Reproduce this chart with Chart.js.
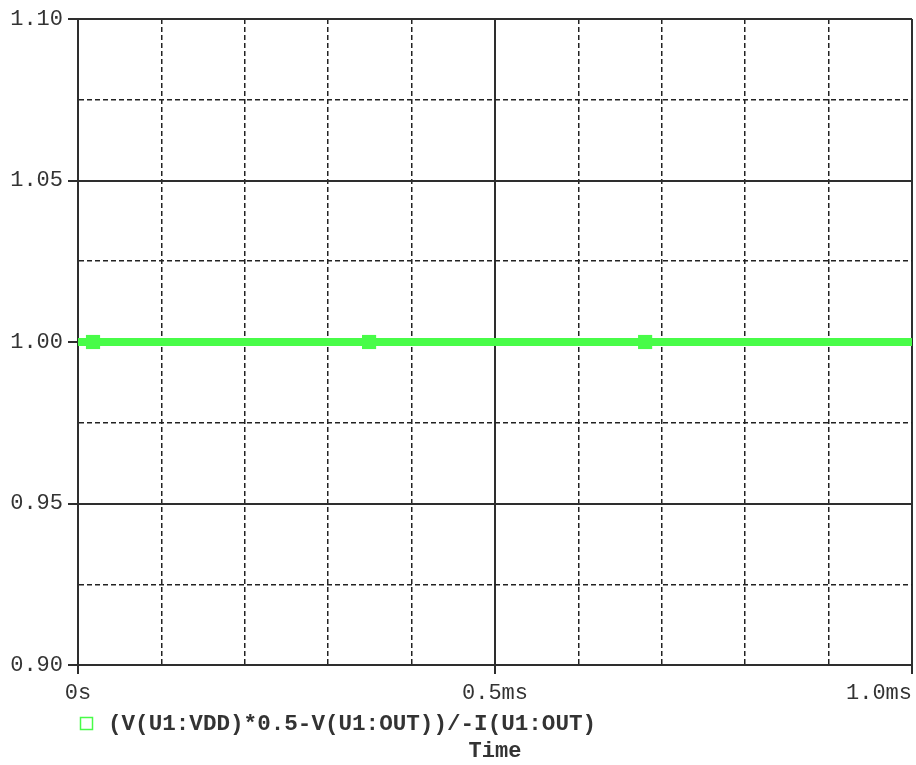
<!DOCTYPE html>
<html>
<head>
<meta charset="utf-8">
<script src="https://cdn.jsdelivr.net/npm/chart.js@4.4.1/dist/chart.umd.min.js"></script>
<style>
  body { margin: 0; background: #ffffff; }
  canvas { display: block; }
</style>
</head>
<body>
<canvas id="plot" width="916" height="765"></canvas>
<script>
        // trace data (time in ms)
        const time = [0, 1.0];
        const ratio = [1.0, 1.0];
        // marker symbols along the trace
        const markerTime = [0.018, 0.349, 0.68];
        const markerRatio = [1.0, 1.0, 1.0];
        // axis labels
        const xTickValues = [0, 0.5, 1.0];
        const xTickLabels = ['0s', '0.5ms', '1.0ms'];
        const xTitle = 'Time';
        const seriesLabel = '(V(U1:VDD)*0.5-V(U1:OUT))/-I(U1:OUT)';

        const green = 'rgb(72, 252, 72)';
        const ink = '#333333';
        const monoFont = "'Liberation Mono', 'Courier New', monospace";

        const isMajorY = v => Math.abs(v * 20 - Math.round(v * 20)) < 1e-6;
        const isMajorX = v => Math.abs(v * 2 - Math.round(v * 2)) < 1e-6;

        // draws the x tick labels, legend and axis title below the plot
        const bottomText = {
            id: 'bottomText',
            afterDraw(chart) {
                const ctx = chart.ctx;
                const xs = chart.scales.x;
                const W = chart.width;
                ctx.save();
                ctx.font = '22px ' + monoFont;
                ctx.fillStyle = ink;
                ctx.textBaseline = 'middle';
                ctx.textAlign = 'center';
                xTickValues.forEach((v, i) => {
                    const w = ctx.measureText(xTickLabels[i]).width;
                    let px = xs.getPixelForValue(v);
                    px = Math.min(px, W - 4 - w / 2);
                    ctx.fillText(xTickLabels[i], px, 693);
                });

                // legend entry
                const ds = chart.data.datasets[0];
                ctx.strokeStyle = ds.borderColor;
                ctx.lineWidth = 1.5;
                ctx.strokeRect(80.5, 717.5, 12, 12);
                ctx.font = 'bold 22.6px ' + monoFont;
                ctx.textAlign = 'left';
                ctx.fillText(ds.label, 108, 724);

                // axis title
                ctx.textAlign = 'center';
                ctx.font = 'bold 22px ' + monoFont;
                ctx.fillText(xTitle, (chart.chartArea.left + chart.chartArea.right) / 2, 751);
                ctx.restore();
            }
        };

        const ctxPlot = document.getElementById('plot').getContext('2d');
        const plot = new Chart(ctxPlot, {
            type: 'line',
            data: {
                datasets: [
                    {
                        label: seriesLabel,
                        data: time.map((t, i) => ({ x: t, y: ratio[i] })),
                        borderColor: green,
                        backgroundColor: green,
                        borderWidth: 8,
                        pointRadius: 0,
                        fill: false,
                        tension: 0
                    },
                    {
                        label: 'markers',
                        data: markerTime.map((t, i) => ({ x: t, y: markerRatio[i] })),
                        showLine: false,
                        pointStyle: 'rect',
                        pointRadius: 10,
                        pointBorderWidth: 0,
                        pointBackgroundColor: green,
                        pointBorderColor: green
                    }
                ]
            },
            options: {
                responsive: false,
                animation: false,
                layout: { autoPadding: false, padding: { top: 19, right: 4, left: 0, bottom: 0 } },
                plugins: {
                    legend: { display: false },
                    tooltip: { enabled: false }
                },
                scales: {
                    x: {
                        type: 'linear',
                        min: 0,
                        max: 1.0,
                        ticks: { stepSize: 0.1, display: false },
                        grid: {
                            color: c => isMajorX(c.tick.value) ? '#2e2e2e' : '#222222',
                            lineWidth: c => isMajorX(c.tick.value) ? 2 : 1.5,
                            tickLength: 9,
                            tickWidth: 2,
                            tickColor: c => isMajorX(c.tick.value) ? '#2e2e2e' : 'rgba(0,0,0,0)'
                        },
                        border: {
                            display: true,
                            color: '#2e2e2e',
                            width: 2,
                            dash: c => (c.tick && !isMajorX(c.tick.value)) ? [5, 3] : []
                        },
                        afterFit: s => { s.height = 100; }
                    },
                    y: {
                        min: 0.9,
                        max: 1.1,
                        ticks: {
                            stepSize: 0.025,
                            padding: 5,
                            color: ink,
                            font: { family: monoFont, size: 22 },
                            callback: v => isMajorY(v) ? v.toFixed(2) : ''
                        },
                        grid: {
                            color: c => isMajorY(c.tick.value) ? '#2e2e2e' : '#222222',
                            lineWidth: c => isMajorY(c.tick.value) ? 2 : 1.5,
                            tickLength: 10,
                            tickWidth: 2,
                            tickColor: c => isMajorY(c.tick.value) ? '#2e2e2e' : 'rgba(0,0,0,0)'
                        },
                        border: {
                            display: true,
                            color: '#2e2e2e',
                            width: 2,
                            dash: c => (c.tick && !isMajorY(c.tick.value)) ? [5, 3] : []
                        },
                        afterFit: s => { s.width = 78; }
                    }
                }
            },
            plugins: [bottomText]
        });
</script>
</body>
</html>
